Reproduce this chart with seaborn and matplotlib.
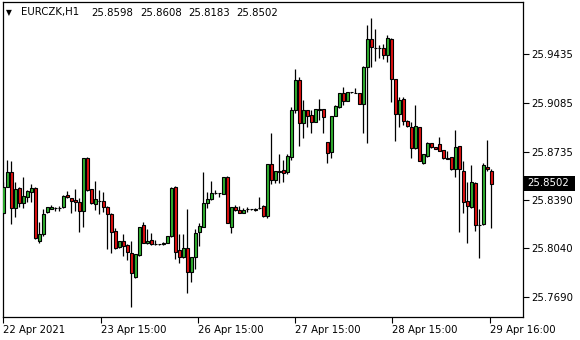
import matplotlib
matplotlib.use("Agg")
import matplotlib.pyplot as plt
from matplotlib.patches import Rectangle
import numpy as np
import pandas as pd
import seaborn as sns

# ---------------- data (EURCZK, H1) ----------------
opens = [25.8294, 25.8480, 25.8588, 25.8330, 25.8473, 25.8365, 25.8409, 25.8444, 25.8473, 25.8093,
         25.8143, 25.8301, 25.8326, 25.8327, 25.8328, 25.8337, 25.8423, 25.8401, 25.8387, 25.8373,
         25.8308, 25.8689, 25.8466, 25.8358, 25.8383, 25.8380, 25.8337, 25.8287, 25.8164, 25.8050,
         25.8093, 25.8064, 25.8006, 25.7834, 25.7992, 25.8208, 25.8078, 25.8100, 25.8071, 25.8069,
         25.8069, 25.8078, 25.8129, 25.8477, 25.8028, 25.7978, 25.8042, 25.7870, 25.7978, 25.8157,
         25.8193, 25.8365, 25.8391, 25.8439, 25.8435, 25.8430, 25.8552, 25.8193, 25.8337, 25.8315,
         25.8297, 25.8319, 25.8320, 25.8312, 25.8330, 25.8344, 25.8269, 25.8646, 25.8534, 25.8590,
         25.8602, 25.8590, 25.8698, 25.9033, 25.9249, 25.8940, 25.9033, 25.8997, 25.8949, 25.9037,
         25.9038, 25.8801, 25.8734, 25.8990, 25.9057, 25.9157, 25.9100, 25.9160, 25.9157, 25.9153,
         25.9074, 25.9344, 25.9541, 25.9481, 25.9476, 25.9476, 25.9426, 25.9541, 25.9254, 25.9002,
         25.9110, 25.8958, 25.8909, 25.8758, 25.8909, 25.8655, 25.8703, 25.8794, 25.8765, 25.8787,
         25.8744, 25.8686, 25.8694, 25.8607, 25.8775, 25.8595, 25.8382, 25.8339, 25.8509, 25.8211,
         25.8213, 25.8626, 25.8598]
highs = [25.8516, 25.8674, 25.8667, 25.8516, 25.8477, 25.8552, 25.8459, 25.8502, 25.8480, 25.8229,
         25.8322, 25.8337, 25.8351, 25.8339, 25.8344, 25.8423, 25.8452, 25.8401, 25.8466, 25.8401,
         25.8692, 25.8696, 25.8466, 25.8523, 25.8459, 25.8444, 25.8344, 25.8294, 25.8186, 25.8093,
         25.8143, 25.8071, 25.8093, 25.7999, 25.8193, 25.8229, 25.8179, 25.8150, 25.8100, 25.8071,
         25.8082, 25.8129, 25.8477, 25.8488, 25.8143, 25.8143, 25.8322, 25.7980, 25.8179, 25.8222,
         25.8588, 25.8444, 25.8523, 25.8459, 25.8437, 25.8552, 25.8556, 25.8337, 25.8351, 25.8344,
         25.8330, 25.8335, 25.8322, 25.8330, 25.8409, 25.8348, 25.8646, 25.8865, 25.8595, 25.8721,
         25.8674, 25.8717, 25.9055, 25.9328, 25.9267, 25.9105, 25.9037, 25.9033, 25.9040, 25.9109,
         25.9040, 25.8803, 25.8990, 25.9066, 25.9155, 25.9196, 25.9162, 25.9162, 25.9189, 25.9155,
         25.9349, 25.9644, 25.9692, 25.9613, 25.9500, 25.9507, 25.9572, 25.9547, 25.9256, 25.9124,
         25.9124, 25.8961, 25.8945, 25.9067, 25.8911, 25.8717, 25.8801, 25.8796, 25.8768, 25.8842,
         25.8746, 25.8739, 25.8696, 25.8890, 25.8778, 25.8669, 25.8514, 25.8638, 25.8518, 25.8320,
         25.8651, 25.8818, 25.8608]
lows = [25.8287, 25.8477, 25.8215, 25.8265, 25.8337, 25.8330, 25.8373, 25.8373, 25.8107, 25.8078,
        25.8129, 25.8297, 25.8326, 25.8310, 25.8310, 25.8333, 25.8405, 25.8294, 25.8308, 25.8157,
        25.8193, 25.8455, 25.8362, 25.8315, 25.8287, 25.8301, 25.8035, 25.8006, 25.8038, 25.8042,
        25.7985, 25.7956, 25.7619, 25.7827, 25.7985, 25.8075, 25.8071, 25.8064, 25.8067, 25.8066,
        25.8067, 25.8075, 25.8125, 25.7963, 25.7935, 25.7974, 25.7719, 25.7798, 25.7892, 25.8057,
        25.8190, 25.8330, 25.8387, 25.8430, 25.8411, 25.8427, 25.8222, 25.8150, 25.8308, 25.8294,
        25.8294, 25.8303, 25.8318, 25.8308, 25.8326, 25.8265, 25.8261, 25.8502, 25.8509, 25.8509,
        25.8513, 25.8574, 25.8674, 25.9015, 25.8775, 25.8832, 25.8913, 25.8868, 25.8947, 25.8961,
        25.8868, 25.8653, 25.8686, 25.8987, 25.9048, 25.9069, 25.9098, 25.9158, 25.9155, 25.9073,
        25.8866, 25.8798, 25.9344, 25.9387, 25.9404, 25.9397, 25.9380, 25.9093, 25.8813, 25.8909,
        25.8926, 25.8913, 25.8686, 25.8755, 25.8667, 25.8646, 25.8694, 25.8764, 25.8750, 25.8739,
        25.8685, 25.8684, 25.8606, 25.8549, 25.8159, 25.8292, 25.8076, 25.8332, 25.8167, 25.7968,
        25.8210, 25.8597, 25.8183]
closes = [25.8480, 25.8588, 25.8330, 25.8466, 25.8365, 25.8416, 25.8452, 25.8473, 25.8114, 25.8143,
          25.8287, 25.8337, 25.8340, 25.8330, 25.8331, 25.8416, 25.8409, 25.8380, 25.8373, 25.8308,
          25.8689, 25.8459, 25.8365, 25.8394, 25.8381, 25.8337, 25.8287, 25.8157, 25.8042, 25.8093,
          25.8057, 25.8014, 25.7863, 25.7999, 25.8193, 25.8078, 25.8093, 25.8071, 25.8069, 25.8068,
          25.8076, 25.8129, 25.8473, 25.8014, 25.7978, 25.8042, 25.7870, 25.7978, 25.8150, 25.8197,
          25.8365, 25.8394, 25.8437, 25.8441, 25.8436, 25.8552, 25.8225, 25.8337, 25.8312, 25.8297,
          25.8315, 25.8320, 25.8321, 25.8326, 25.8332, 25.8269, 25.8646, 25.8534, 25.8592, 25.8592,
          25.8581, 25.8703, 25.9033, 25.9249, 25.8940, 25.9033, 25.8990, 25.8949, 25.9038, 25.9039,
          25.8981, 25.8722, 25.8990, 25.9062, 25.9153, 25.9100, 25.9160, 25.9161, 25.9158, 25.9074,
          25.9344, 25.9541, 25.9483, 25.9482, 25.9478, 25.9426, 25.9548, 25.9254, 25.9002, 25.9105,
          25.8956, 25.8916, 25.8758, 25.8915, 25.8669, 25.8717, 25.8798, 25.8765, 25.8751, 25.8741,
          25.8686, 25.8685, 25.8607, 25.8765, 25.8607, 25.8375, 25.8344, 25.8514, 25.8208, 25.8205,
          25.8638, 25.8607, 25.8502]

y_ticks = [25.9435, 25.9085, 25.8735, 25.8390, 25.8040, 25.7690]
x_tick_bars = [0, 24.3, 48.6, 72.9, 97.3, 121.7]
x_tick_labels = ["22 Apr 2021", "23 Apr 15:00", "26 Apr 15:00", "27 Apr 15:00",
                 "28 Apr 15:00", "29 Apr 16:00"]
symbol = "EURCZK,H1"
header_values = ["25.8598", "25.8608", "25.8183", "25.8502"]
last_price = 25.8502

# ---------------- style ----------------
sns.set_theme(style="white")
plt.rcParams["font.family"] = ["DejaVu Sans"]
FS = 7.3
W, H = 580, 340

df = pd.DataFrame({"open": opens, "high": highs, "low": lows, "close": closes})
df["bar"] = np.arange(len(df))
df["bull"] = df["close"] >= df["open"]
df["body_low"] = df[["open", "close"]].min(axis=1)
df["body_h"] = (df["close"] - df["open"]).abs().clip(lower=0.00001)

fig = plt.figure(figsize=(W / 100, H / 100), dpi=100)
fig.patch.set_facecolor("white")
ax = fig.add_axes([3 / W, 1 - 317 / H, 520 / W, 315 / H])
ax.set_facecolor("white")

# wicks
ax.vlines(df["bar"], df["low"], df["high"], color="black", linewidth=0.9, zorder=2)
# bodies
colors = np.where(df["bull"], "#30b030", "#e01010")
ax.bar(df["bar"], df["body_h"], bottom=df["body_low"], width=0.78,
       color=colors, edgecolor="black", linewidth=0.8, zorder=3)

ax.set_xlim(-0.08, 129.93)
ax.set_ylim(25.7547, 25.9809)

for s in ax.spines.values():
    s.set_visible(True)
    s.set_color("black")
    s.set_linewidth(0.9)

ax.yaxis.tick_right()
ax.set_yticks(y_ticks)
ax.set_yticklabels([f"{v:.4f}" for v in y_ticks])
ax.set_xticks(x_tick_bars)
ax.set_xticklabels(x_tick_labels, ha="left")
ax.tick_params(axis="y", which="major", right=True, left=False, length=4, width=0.8,
               color="black", labelsize=FS, labelcolor="black", pad=2)
ax.tick_params(axis="x", which="major", bottom=True, length=4, width=0.8,
               color="black", labelsize=FS, labelcolor="black", pad=2)
ax.grid(False)

# current price label
fig.patches.append(Rectangle((523 / W, 1 - 191 / H), 52 / W, 15 / H,
                             transform=fig.transFigure, facecolor="black",
                             edgecolor="none", zorder=5))
fig.text(527 / W, 1 - 183.5 / H, f"{last_price:.4f}", color="white", fontsize=FS,
         va="center", ha="left", zorder=6)

# header
hy = 1 - 12.5 / H
fig.text(5.5 / W, hy, "\u25BC", fontsize=5.5, va="center", ha="left", color="black")
fig.text(20.7 / W, hy, symbol, fontsize=FS, va="center", ha="left", color="black")
for xp, v in zip([91.7, 140.0, 188.3, 236.6], header_values):
    fig.text(xp / W, hy, v, fontsize=FS, va="center", ha="left", color="black")

fig.savefig("out.png", dpi=100, facecolor="white")
